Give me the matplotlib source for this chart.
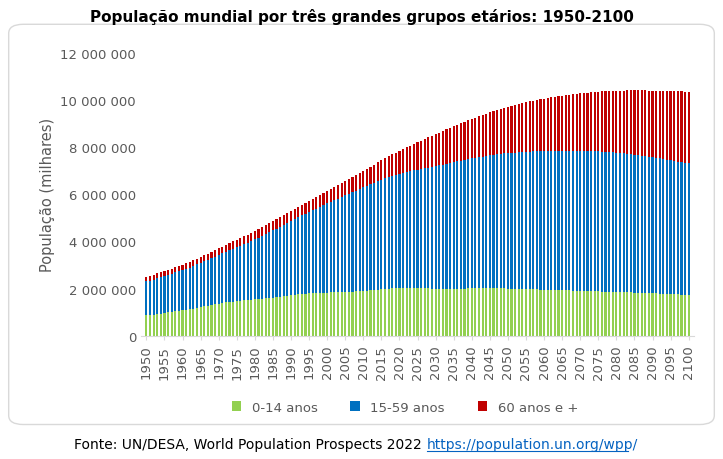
import matplotlib.pyplot as plt
from matplotlib.patches import FancyBboxPatch
import numpy as np

years = list(range(1950, 2101))

# thousands
young = [860,880,900,920,940,960,985,1010,1035,1060,
         1080,1100,1125,1150,1180,1210,1240,1270,1300,1330,
         1360,1385,1410,1430,1450,1470,1485,1500,1515,1530,
         1545,1560,1575,1590,1605,1620,1640,1660,1680,1700,
         1720,1740,1760,1775,1790,1800,1810,1815,1820,1825,
         1830,1835,1840,1845,1850,1855,1860,1870,1880,1890,
         1900,1915,1930,1945,1960,1975,1990,2000,2010,2020,
         2030,2035,2035,2030,2025,2020,2015,2010,2005,2000,
         1995,1990,1990,1990,1990,1990,1995,2000,2000,2005,
         2005,2010,2010,2010,2010,2010,2010,2010,2005,2005,
         2000,2000,1995,1990,1985,1980,1975,1970,1965,1960,
         1955,1950,1945,1940,1935,1930,1925,1920,1915,1910,
         1905,1900,1895,1890,1885,1880,1875,1870,1865,1860,
         1855,1850,1845,1840,1835,1830,1825,1820,1815,1805,
         1800,1795,1790,1780,1775,1770,1760,1750,1745,1740,
         1730]
old = [200,203,206,209,212,215,218,221,224,228,
       232,236,240,244,249,254,259,264,269,275,
       281,287,293,299,306,313,320,327,334,341,
       348,355,362,369,377,385,393,402,411,420,
       430,440,450,460,470,480,490,500,510,520,
       530,545,560,575,590,605,620,640,660,680,
       700,720,745,770,800,830,860,890,920,950,
       1000,1030,1060,1090,1120,1160,1200,1240,1280,1320,
       1360,1395,1430,1460,1490,1520,1550,1580,1610,1640,
       1670,1700,1730,1760,1790,1820,1850,1880,1910,1940,
       1970,2000,2030,2055,2080,2105,2130,2155,2180,2205,
       2230,2250,2270,2290,2310,2330,2350,2370,2390,2410,
       2430,2450,2470,2490,2510,2530,2550,2570,2590,2610,
       2630,2650,2670,2690,2710,2730,2750,2770,2790,2810,
       2830,2850,2870,2890,2910,2930,2950,2970,2990,3010,
       3030]
total = [2500,2540,2590,2640,2690,2740,2790,2850,2910,2970,
         3020,3070,3130,3200,3270,3340,3410,3480,3550,3630,
         3700,3780,3850,3920,4000,4070,4140,4210,4280,4360,
         4440,4520,4600,4680,4770,4850,4940,5030,5120,5210,
         5300,5390,5480,5560,5650,5730,5810,5890,5970,6060,
         6150,6230,6310,6390,6470,6560,6640,6730,6810,6900,
         6990,7080,7170,7260,7350,7440,7530,7610,7690,7770,
         7840,7920,7990,8060,8130,8200,8270,8340,8410,8480,
         8550,8620,8690,8760,8830,8890,8950,9010,9070,9130,
         9190,9250,9310,9360,9420,9470,9520,9570,9620,9670,
         9710,9750,9790,9830,9870,9910,9940,9970,10000,10030,
         10060,10090,10110,10140,10160,10180,10200,10220,10240,10260,
         10280,10290,10310,10320,10330,10350,10360,10370,10380,10390,
         10390,10400,10400,10410,10410,10410,10410,10410,10410,10400,
         10400,10400,10390,10390,10380,10380,10370,10360,10360,10350,
         10350]

young = np.array(young) * 1000
old = np.array(old) * 1000
mid = np.array(total) * 1000 - young - old

fig = plt.figure(figsize=(7.23, 4.6), dpi=100)
box = FancyBboxPatch((0.012, 0.075), 0.976, 0.87, boxstyle="round,pad=0,rounding_size=0.02",
                     transform=fig.transFigure, fc='white', ec='#d9d9d9', lw=1, zorder=-10)
fig.patches.append(box)
ax = fig.add_axes([0.195, 0.268, 0.765, 0.615])
ax.set_facecolor('none')
w = 0.6
ax.bar(years, young, w, color='#92D050', label='0-14 anos')
ax.bar(years, mid, w, bottom=young, color='#0070C0', label='15-59 anos')
ax.bar(years, old, w, bottom=young + mid, color='#C00000', label='60 anos e +')

ax.set_ylim(0, 12000000)
ax.set_xlim(1948.5, 2101.5)
yt = np.arange(0, 12000001, 2000000)
ax.set_yticks(yt)
ax.set_yticklabels([f"{v:,}".replace(",", " ") for v in yt], color='#595959', fontsize=9.5)
ax.set_xticks(range(1950, 2101, 5))
ax.set_xticklabels([str(y) for y in range(1950, 2101, 5)], rotation=90, color='#595959', fontsize=9.5)
ax.tick_params(length=0)
ax.tick_params(axis='x', length=3, color='#d9d9d9')
for s in ['top', 'right', 'left']:
    ax.spines[s].set_visible(False)
ax.spines['bottom'].set_color('#d9d9d9')
ax.set_ylabel('População (milhares)', color='#595959', fontsize=10.5)

fig.text(0.5, 0.962, 'População mundial por três grandes grupos etários: 1950-2100',
         ha='center', va='center', fontsize=11, fontweight='bold')
fig.legend(loc='center', bbox_to_anchor=(0.56, 0.113), ncol=3, frameon=False, fontsize=9.5,
           handlelength=0.7, handleheight=0.7, columnspacing=2.5, labelcolor='#595959')
fig.text(0.59, 0.033, 'Fonte: UN/DESA, World Population Prospects 2022 ', ha='right', va='center', fontsize=10)
fig.text(0.59, 0.033, 'https://population.un.org/wpp/', ha='left', va='center', fontsize=10,
         color='#0563C1')
fig.lines.append(plt.Line2D([0.59, 0.868], [0.018, 0.018], transform=fig.transFigure, color='#0563C1', lw=0.8))
fig.savefig('out.png')
